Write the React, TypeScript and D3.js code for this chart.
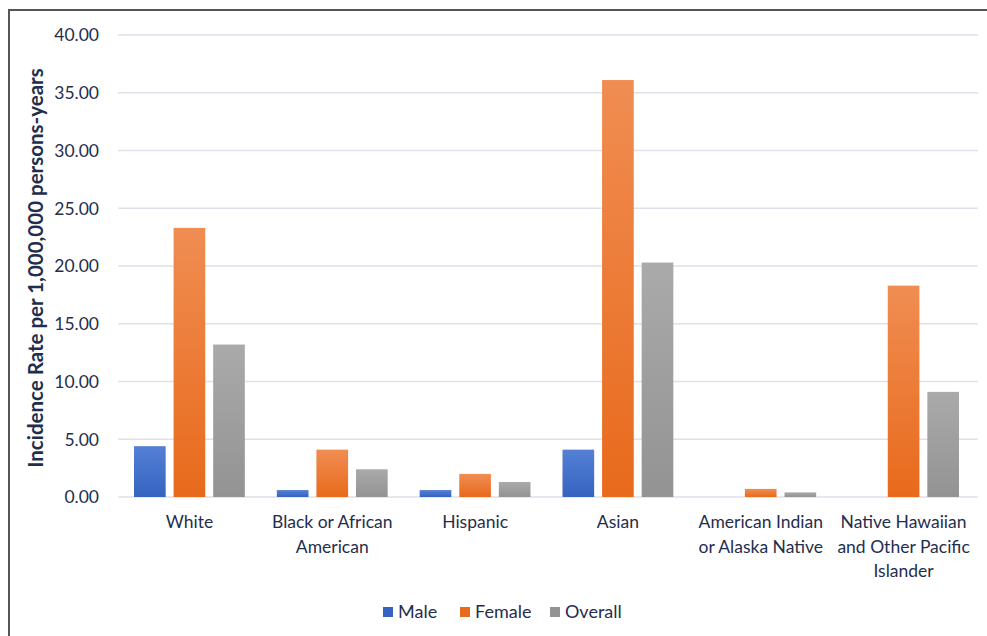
import React, { useEffect, useRef } from "react";
import * as d3 from "d3";

const categories = [
  ["White"],
  ["Black or African", "American"],
  ["Hispanic"],
  ["Asian"],
  ["American Indian", "or Alaska Native"],
  ["Native Hawaiian", "and Other Pacific", "Islander"],
];
const seriesNames = ["Male", "Female", "Overall"];
const male = [4.4, 0.6, 0.6, 4.1, 0, 0];
const female = [23.3, 4.1, 2.0, 36.1, 0.7, 18.3];
const overall = [13.2, 2.4, 1.3, 20.3, 0.4, 9.1];
const yTicks = [0, 5, 10, 15, 20, 25, 30, 35, 40];

const colors = [
  ["#5480d4", "#3563c0"],
  ["#f08d52", "#e86a1c"],
  ["#aaaaaa", "#939393"],
];
const textColor = "#1f2e4d";
const font = "Lato, 'Open Sans', sans-serif";

export default function App() {
  const ref = useRef<SVGSVGElement>(null);

  useEffect(() => {
    const width = 987;
    const height = 636;
    const margin = { left: 118, right: 12, top: 35, bottom: 139 };
    const svg = d3.select(ref.current);
    svg.selectAll("*").remove();

    const defs = svg.append("defs");
    colors.forEach((c, i) => {
      const g = defs.append("linearGradient")
        .attr("id", "grad" + i)
        .attr("x1", 0).attr("y1", 0).attr("x2", 0).attr("y2", 1);
      g.append("stop").attr("offset", "0%").attr("stop-color", c[0]);
      g.append("stop").attr("offset", "100%").attr("stop-color", c[1]);
    });

    svg.append("rect")
      .attr("width", width)
      .attr("height", height)
      .attr("fill", "#fff");

    // frame around chart (runs off the right/bottom edge)
    svg.append("rect")
      .attr("x", 9)
      .attr("y", 10)
      .attr("width", 1000)
      .attr("height", 700)
      .attr("fill", "none")
      .attr("stroke", "#555")
      .attr("stroke-width", 2);

    const x = d3.scaleBand<number>()
      .domain(d3.range(categories.length))
      .range([margin.left, width - margin.right]);

    const inner = d3.scaleBand<string>()
      .domain(seriesNames)
      .range([16, x.bandwidth() - 16])
      .paddingInner(0.2);

    const y = d3.scaleLinear()
      .domain([0, 40])
      .range([height - margin.bottom, margin.top]);

    // gridlines
    svg.append("g")
      .selectAll("line")
      .data(yTicks)
      .join("line")
      .attr("x1", margin.left)
      .attr("x2", width - margin.right + 3)
      .attr("y1", d => y(d))
      .attr("y2", d => y(d))
      .attr("stroke", "#dfe1ea")
      .attr("stroke-width", 1.5);

    // y tick labels
    svg.append("g")
      .selectAll("text")
      .data(yTicks)
      .join("text")
      .attr("x", 99)
      .attr("y", d => y(d))
      .attr("dy", "0.36em")
      .attr("text-anchor", "end")
      .attr("font-family", font)
      .attr("font-size", 17.5)
      .attr("fill", textColor)
      .text(d => d3.format(".2f")(d));

    // y axis title
    svg.append("text")
      .attr("transform", `translate(43, ${(y(0) + y(40)) / 2 + 2}) rotate(-90)`)
      .attr("text-anchor", "middle")
      .attr("font-family", font)
      .attr("font-weight", "bold")
      .attr("font-size", 20.5)
      .attr("fill", textColor)
      .text("Incidence Rate per 1,000,000 persons-years");

    const seriesData = [male, female, overall];

    seriesData.forEach((vals, si) => {
      svg.append("g")
        .selectAll("rect")
        .data(vals)
        .join("rect")
        .attr("x", (d, i) => (x(i) as number) + (inner(seriesNames[si]) as number))
        .attr("y", d => y(d))
        .attr("width", inner.bandwidth())
        .attr("height", d => y(0) - y(d))
        .attr("fill", `url(#grad${si})`);
    });

    // category labels
    const cat = svg.append("g")
      .selectAll("text")
      .data(categories)
      .join("text")
      .attr("x", (d, i) => (x(i) as number) + x.bandwidth() / 2)
      .attr("y", 528)
      .attr("text-anchor", "middle")
      .attr("font-family", font)
      .attr("font-size", 17.5)
      .attr("fill", textColor);
    cat.selectAll("tspan")
      .data(d => d)
      .join("tspan")
      .attr("x", function () {
        return (this.parentNode as SVGTextElement).getAttribute("x");
      })
      .attr("dy", (d, i) => (i === 0 ? 0 : 24.5))
      .text(d => d);

    // legend
    const legendX = [383, 460, 550];
    const legend = svg.append("g")
      .selectAll("g")
      .data(seriesNames)
      .join("g")
      .attr("transform", (d, i) => `translate(${legendX[i]}, 612)`);
    legend.append("rect")
      .attr("x", 0)
      .attr("y", -5)
      .attr("width", 10)
      .attr("height", 10)
      .attr("fill", (d, i) => colors[i][1]);
    legend.append("text")
      .attr("x", 15)
      .attr("dy", "0.36em")
      .attr("font-family", font)
      .attr("font-size", 18)
      .attr("fill", textColor)
      .text(d => d);
  }, []);

  return (
    <svg
      ref={ref}
      width={987}
      height={636}
      style={{ position: "absolute", left: 0, top: 0 }}
    />
  );
}
